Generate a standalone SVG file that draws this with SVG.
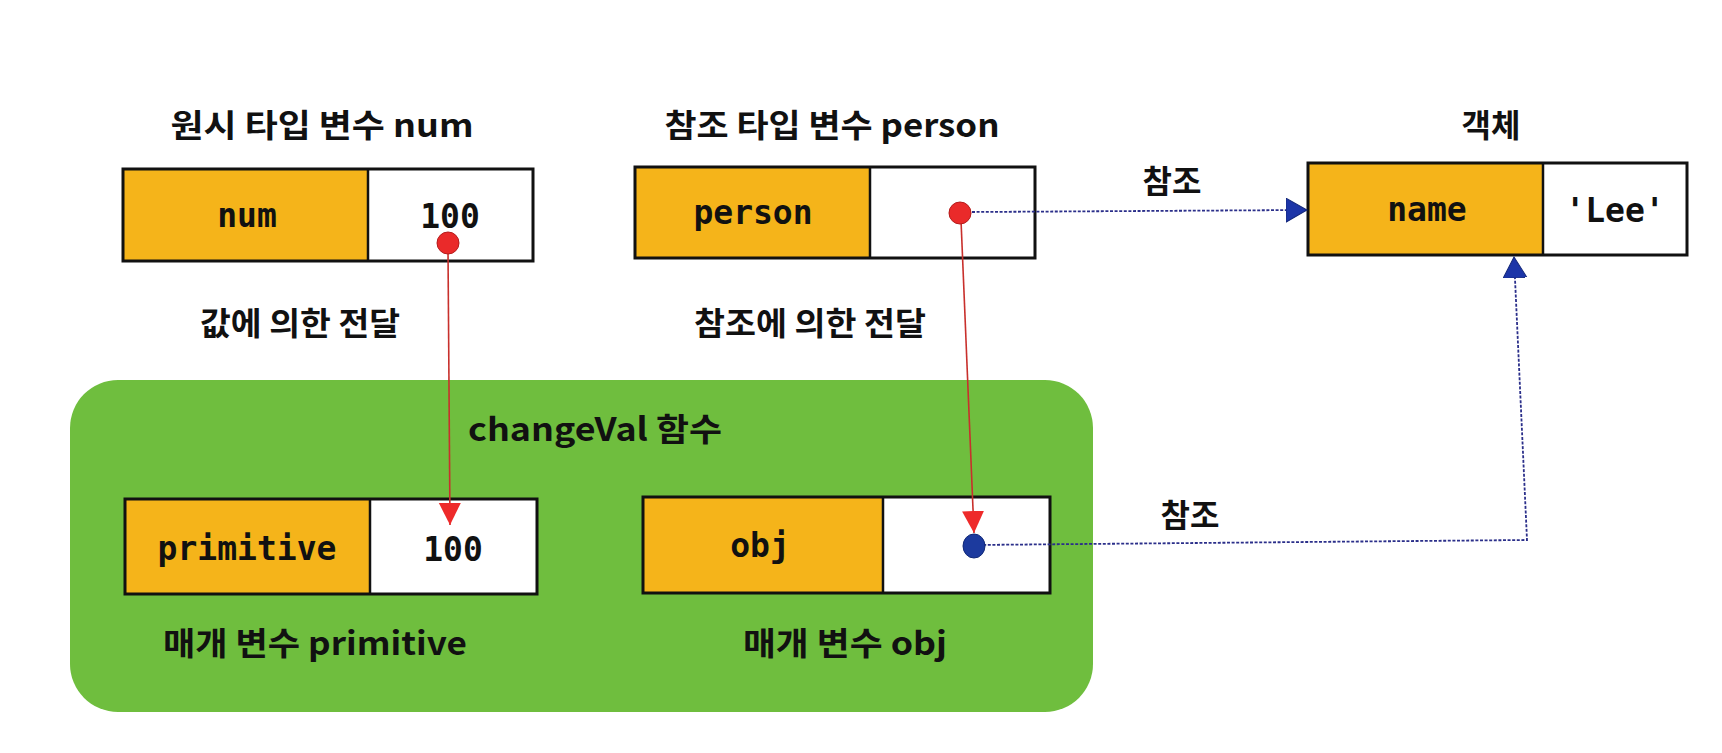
<svg xmlns="http://www.w3.org/2000/svg" width="1722" height="753" viewBox="0 0 1722 753">
  <style>
    .lbl { font-family: "Noto Sans CJK KR", "Noto Sans", sans-serif; font-weight: 700; font-size: 32px; fill: #111; text-anchor: middle; }
    .mono { font-family: "DejaVu Sans Mono", "Liberation Mono", monospace; font-weight: 700; font-size: 33px; fill: #111; text-anchor: middle; }
    .key { fill: #f5b41a; stroke: none; }
    .val { fill: #ffffff; stroke: none; }
    .frame { fill: none; stroke: #111; stroke-width: 3; }
    .div { stroke: #111; stroke-width: 2.5; }
    .red { stroke: #c8302c; stroke-width: 1.6; fill: none; }
    .blue { stroke: #2b2f8a; stroke-width: 1.8; fill: none; stroke-dasharray: 3 1.6; }
    .rdot { fill: #ea2a2a; stroke: #b51c1c; stroke-width: 1; }
    .bdot { fill: #1c3a9e; stroke: #122a78; stroke-width: 1; }
  </style>
  <defs>
    <marker id="ah-red" markerUnits="userSpaceOnUse" markerWidth="24" markerHeight="24" refX="22" refY="11" orient="auto">
      <path d="M0,0 L22,11 L0,22 z" fill="#ee2a2a"/>
    </marker>
    <marker id="ah-blue" markerUnits="userSpaceOnUse" markerWidth="24" markerHeight="26" refX="21" refY="12" orient="auto">
      <path d="M0,0 L21,12 L0,24 z" fill="#1c35a8" stroke="#14287a" stroke-width="1"/>
    </marker>
  </defs>

  <rect width="1722" height="753" fill="#ffffff"/>

  <!-- function scope -->
  <g id="changeVal-scope">
    <rect x="70" y="380" width="1023" height="332" rx="48" ry="48" fill="#6fbe3e"/>
    <text class="lbl" x="595" y="441" textLength="254" lengthAdjust="spacingAndGlyphs">changeVal 함수</text>
  </g>

  <!-- primitive variable num -->
  <g id="num-var">
    <text class="lbl" x="322" y="137" textLength="303" lengthAdjust="spacingAndGlyphs">원시 타입 변수 num</text>
    <rect class="key" x="123" y="169" width="245" height="92"/>
    <rect class="val" x="368" y="169" width="165" height="92"/>
    <line class="div" x1="368" y1="169" x2="368" y2="261"/>
    <rect class="frame" x="123" y="169" width="410" height="92"/>
    <text class="mono" x="247" y="227">num</text>
    <text class="mono" x="450" y="228">100</text>
  </g>

  <!-- reference variable person -->
  <g id="person-var">
    <text class="lbl" x="832" y="137" textLength="335" lengthAdjust="spacingAndGlyphs">참조 타입 변수 person</text>
    <rect class="key" x="635" y="167" width="235" height="91"/>
    <rect class="val" x="870" y="167" width="165" height="91"/>
    <line class="div" x1="870" y1="167" x2="870" y2="258"/>
    <rect class="frame" x="635" y="167" width="400" height="91"/>
    <text class="mono" x="753" y="224">person</text>
  </g>

  <!-- object -->
  <g id="object">
    <text class="lbl" x="1491" y="137">객체</text>
    <rect class="key" x="1308" y="163" width="235" height="92"/>
    <rect class="val" x="1543" y="163" width="144" height="92"/>
    <line class="div" x1="1543" y1="163" x2="1543" y2="255"/>
    <rect class="frame" x="1308" y="163" width="379" height="92"/>
    <text class="mono" x="1427" y="221">name</text>
    <text class="mono" x="1615" y="222">'Lee'</text>
  </g>

  <!-- parameter primitive -->
  <g id="primitive-param">
    <rect class="key" x="125" y="499" width="245" height="95"/>
    <rect class="val" x="370" y="499" width="167" height="95"/>
    <line class="div" x1="370" y1="499" x2="370" y2="594"/>
    <rect class="frame" x="125" y="499" width="412" height="95"/>
    <text class="mono" x="247" y="560">primitive</text>
    <text class="mono" x="453" y="561">100</text>
    <text class="lbl" x="315" y="655" textLength="304" lengthAdjust="spacingAndGlyphs">매개 변수 primitive</text>
  </g>

  <!-- parameter obj -->
  <g id="obj-param">
    <rect class="key" x="643" y="497" width="240" height="96"/>
    <rect class="val" x="883" y="497" width="167" height="96"/>
    <line class="div" x1="883" y1="497" x2="883" y2="593"/>
    <rect class="frame" x="643" y="497" width="407" height="96"/>
    <text class="mono" x="760" y="557">obj</text>
    <text class="lbl" x="845" y="655" textLength="204" lengthAdjust="spacingAndGlyphs">매개 변수 obj</text>
  </g>

  <!-- connectors -->
  <g id="connectors">
    <line class="red" x1="448" y1="250" x2="450" y2="525" marker-end="url(#ah-red)"/>
    <text class="lbl" x="300" y="335" textLength="200" lengthAdjust="spacingAndGlyphs">값에 의한 전달</text>

    <line class="red" x1="961" y1="220" x2="974" y2="533" marker-end="url(#ah-red)"/>
    <text class="lbl" x="810" y="335" textLength="232" lengthAdjust="spacingAndGlyphs">참조에 의한 전달</text>

    <line class="blue" x1="972" y1="212" x2="1307" y2="210" marker-end="url(#ah-blue)"/>
    <text class="lbl" x="1172" y="193">참조</text>

    <path class="blue" d="M974,545 L1527,540 L1514,257" marker-end="url(#ah-blue)"/>
    <text class="lbl" x="1190" y="527">참조</text>

    <circle class="rdot" cx="448" cy="243" r="11"/>
    <circle class="rdot" cx="960" cy="213" r="11"/>
    <ellipse class="bdot" cx="974" cy="546" rx="11" ry="12"/>
  </g>
</svg>
